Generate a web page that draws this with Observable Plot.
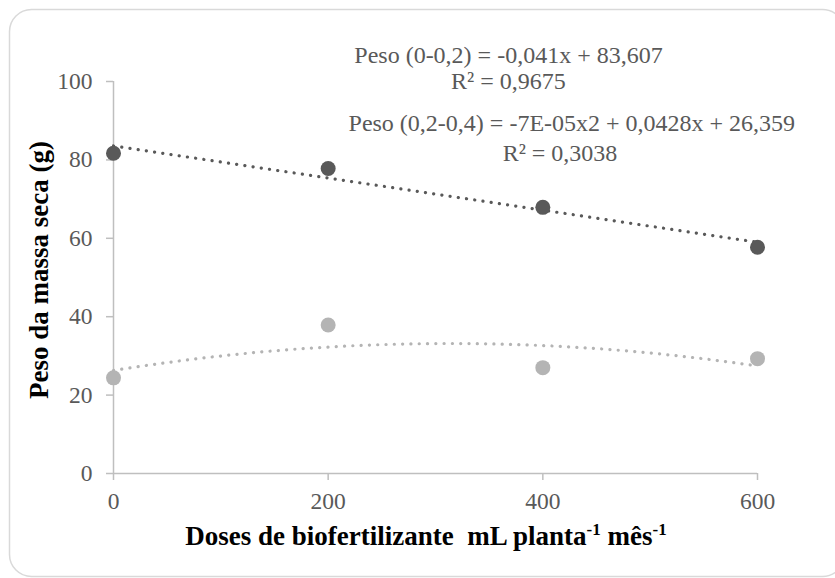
<!DOCTYPE html>
<html>
<head>
<meta charset="utf-8">
<script src="https://cdn.jsdelivr.net/npm/d3@7"></script>
<script src="https://cdn.jsdelivr.net/npm/@observablehq/plot@0.6"></script>
<style>
  html, body { margin: 0; padding: 0; background: #fff; }
  #chart { width: 835px; height: 578px; }
</style>
</head>
<body>
<div id="chart"></div>
<script>
// ---- data ----
const doses = [0, 200, 400, 600];
const peso0_02 = [81.7, 77.8, 67.9, 57.7];   // Peso (0-0,2)
const peso02_04 = [24.4, 37.9, 27.0, 29.3];  // Peso (0,2-0,4)
const xTicks = [0, 200, 400, 600];
const yTicks = [0, 20, 40, 60, 80, 100];
const eqTexts = ["Peso (0-0,2) = -0,041x + 83,607", "R² = 0,9675",
                 "Peso (0,2-0,4) = -7E-05x2 + 0,0428x + 26,359", "R² = 0,3038"];
const eqX = [368, 368, 427, 416];
const eqY = [104.8, 98.0, 87.5, 79.8];

const darkColor = "#595959";
const lightColor = "#b4b4b4";

// least-squares polynomial fit (Excel-style trendline)
function polyfit(xs, ys, deg) {
  const n = deg + 1;
  const A = Array.from({length: n}, () => new Array(n + 1).fill(0));
  for (let r = 0; r < n; r++) {
    for (let c = 0; c < n; c++) A[r][c] = d3.sum(xs, x => Math.pow(x, r + c));
    A[r][n] = d3.sum(xs.map((x, i) => Math.pow(x, r) * ys[i]));
  }
  for (let i = 0; i < n; i++) {
    let p = i;
    for (let k = i + 1; k < n; k++) if (Math.abs(A[k][i]) > Math.abs(A[p][i])) p = k;
    [A[i], A[p]] = [A[p], A[i]];
    for (let k = i + 1; k < n; k++) {
      const f = A[k][i] / A[i][i];
      for (let j = i; j <= n; j++) A[k][j] -= f * A[i][j];
    }
  }
  const coef = new Array(n).fill(0);
  for (let i = n - 1; i >= 0; i--) {
    let s = A[i][n];
    for (let j = i + 1; j < n; j++) s -= A[i][j] * coef[j];
    coef[i] = s / A[i][i];
  }
  return x => coef.reduce((acc, c, k) => acc + c * Math.pow(x, k), 0);
}

const fDark = polyfit(doses, peso0_02, 1);
const fLight = polyfit(doses, peso02_04, 2);
const xs = d3.range(0, 601, 4);
const trendDark = xs.map(x => ({x, y: fDark(x)}));
const trendLight = xs.map(x => ({x, y: fLight(x)}));

const pts = doses.flatMap((d, i) => [
  {x: d, y: peso0_02[i], s: "dark"},
  {x: d, y: peso02_04[i], s: "light"}
]);
const eqs = eqTexts.map((t, i) => ({t, x: eqX[i], y: eqY[i]}));

const font = "'Liberation Serif', 'Times New Roman', serif";

const plot = Plot.plot({
  width: 835,
  height: 578,
  marginLeft: 113,
  marginRight: 78,
  marginTop: 81,
  marginBottom: 105,
  style: {fontFamily: font, fontSize: "23.5px", background: "transparent", overflow: "visible"},
  x: {domain: [0, 600]},
  y: {domain: [0, 100]},
  marks: [
    Plot.ruleY([0], {stroke: "#bfbfbf", strokeWidth: 1.5}),
    Plot.ruleX([0], {stroke: "#bfbfbf", strokeWidth: 1.5}),
    Plot.axisX({ticks: xTicks, tickSize: 7, tickPadding: 12, stroke: "#bfbfbf", strokeWidth: 1.5,
                fill: darkColor, label: null, fontSize: 23.5}),
    Plot.axisY({ticks: yTicks, tickSize: 7, tickPadding: 14, stroke: "#bfbfbf", strokeWidth: 1.5,
                fill: darkColor, label: null, fontSize: 23.5}),
    Plot.line(trendDark, {x: "x", y: "y", stroke: darkColor, strokeWidth: 3.2,
                          strokeDasharray: "0.1 8.2", strokeLinecap: "round"}),
    Plot.line(trendLight, {x: "x", y: "y", stroke: lightColor, strokeWidth: 3.2,
                           strokeDasharray: "0.1 8.2", strokeLinecap: "round"}),
    Plot.dot(pts, {x: "x", y: "y", r: 7.5, fill: d => d.s === "dark" ? darkColor : lightColor, stroke: "none"}),
    Plot.text(eqs, {x: "x", y: "y", text: "t", textAnchor: "middle", lineAnchor: "bottom",
                    fill: darkColor, fontSize: 24})
  ]
});

const svg = d3.select(plot);
// chart area border (Excel-style rounded frame)
svg.insert("rect", ":first-child")
  .attr("x", 9.5).attr("y", 9.5).attr("width", 835).attr("height", 567)
  .attr("rx", 22).attr("fill", "#fff").attr("stroke", "#d9d9d9").attr("stroke-width", 1.5);

// y-axis title
svg.append("text")
  .attr("transform", "translate(48,270) rotate(-90)")
  .attr("text-anchor", "middle")
  .attr("font-family", font).attr("font-weight", "bold").attr("font-size", 27)
  .attr("fill", "#000")
  .text("Peso da massa seca (g)");

// x-axis title with superscripts
const xt = svg.append("text")
  .attr("x", 426).attr("y", 545)
  .attr("text-anchor", "middle")
  .attr("font-family", font).attr("font-weight", "bold").attr("font-size", 27)
  .attr("fill", "#000")
  .attr("xml:space", "preserve")
  .style("white-space", "pre");
xt.append("tspan").text("Doses de biofertilizante  mL planta");
xt.append("tspan").attr("font-size", 17).attr("dy", -10).text("-1");
xt.append("tspan").attr("dy", 10).text(" mês");
xt.append("tspan").attr("font-size", 17).attr("dy", -10).text("-1");

document.getElementById("chart").appendChild(plot);
</script>
</body>
</html>
